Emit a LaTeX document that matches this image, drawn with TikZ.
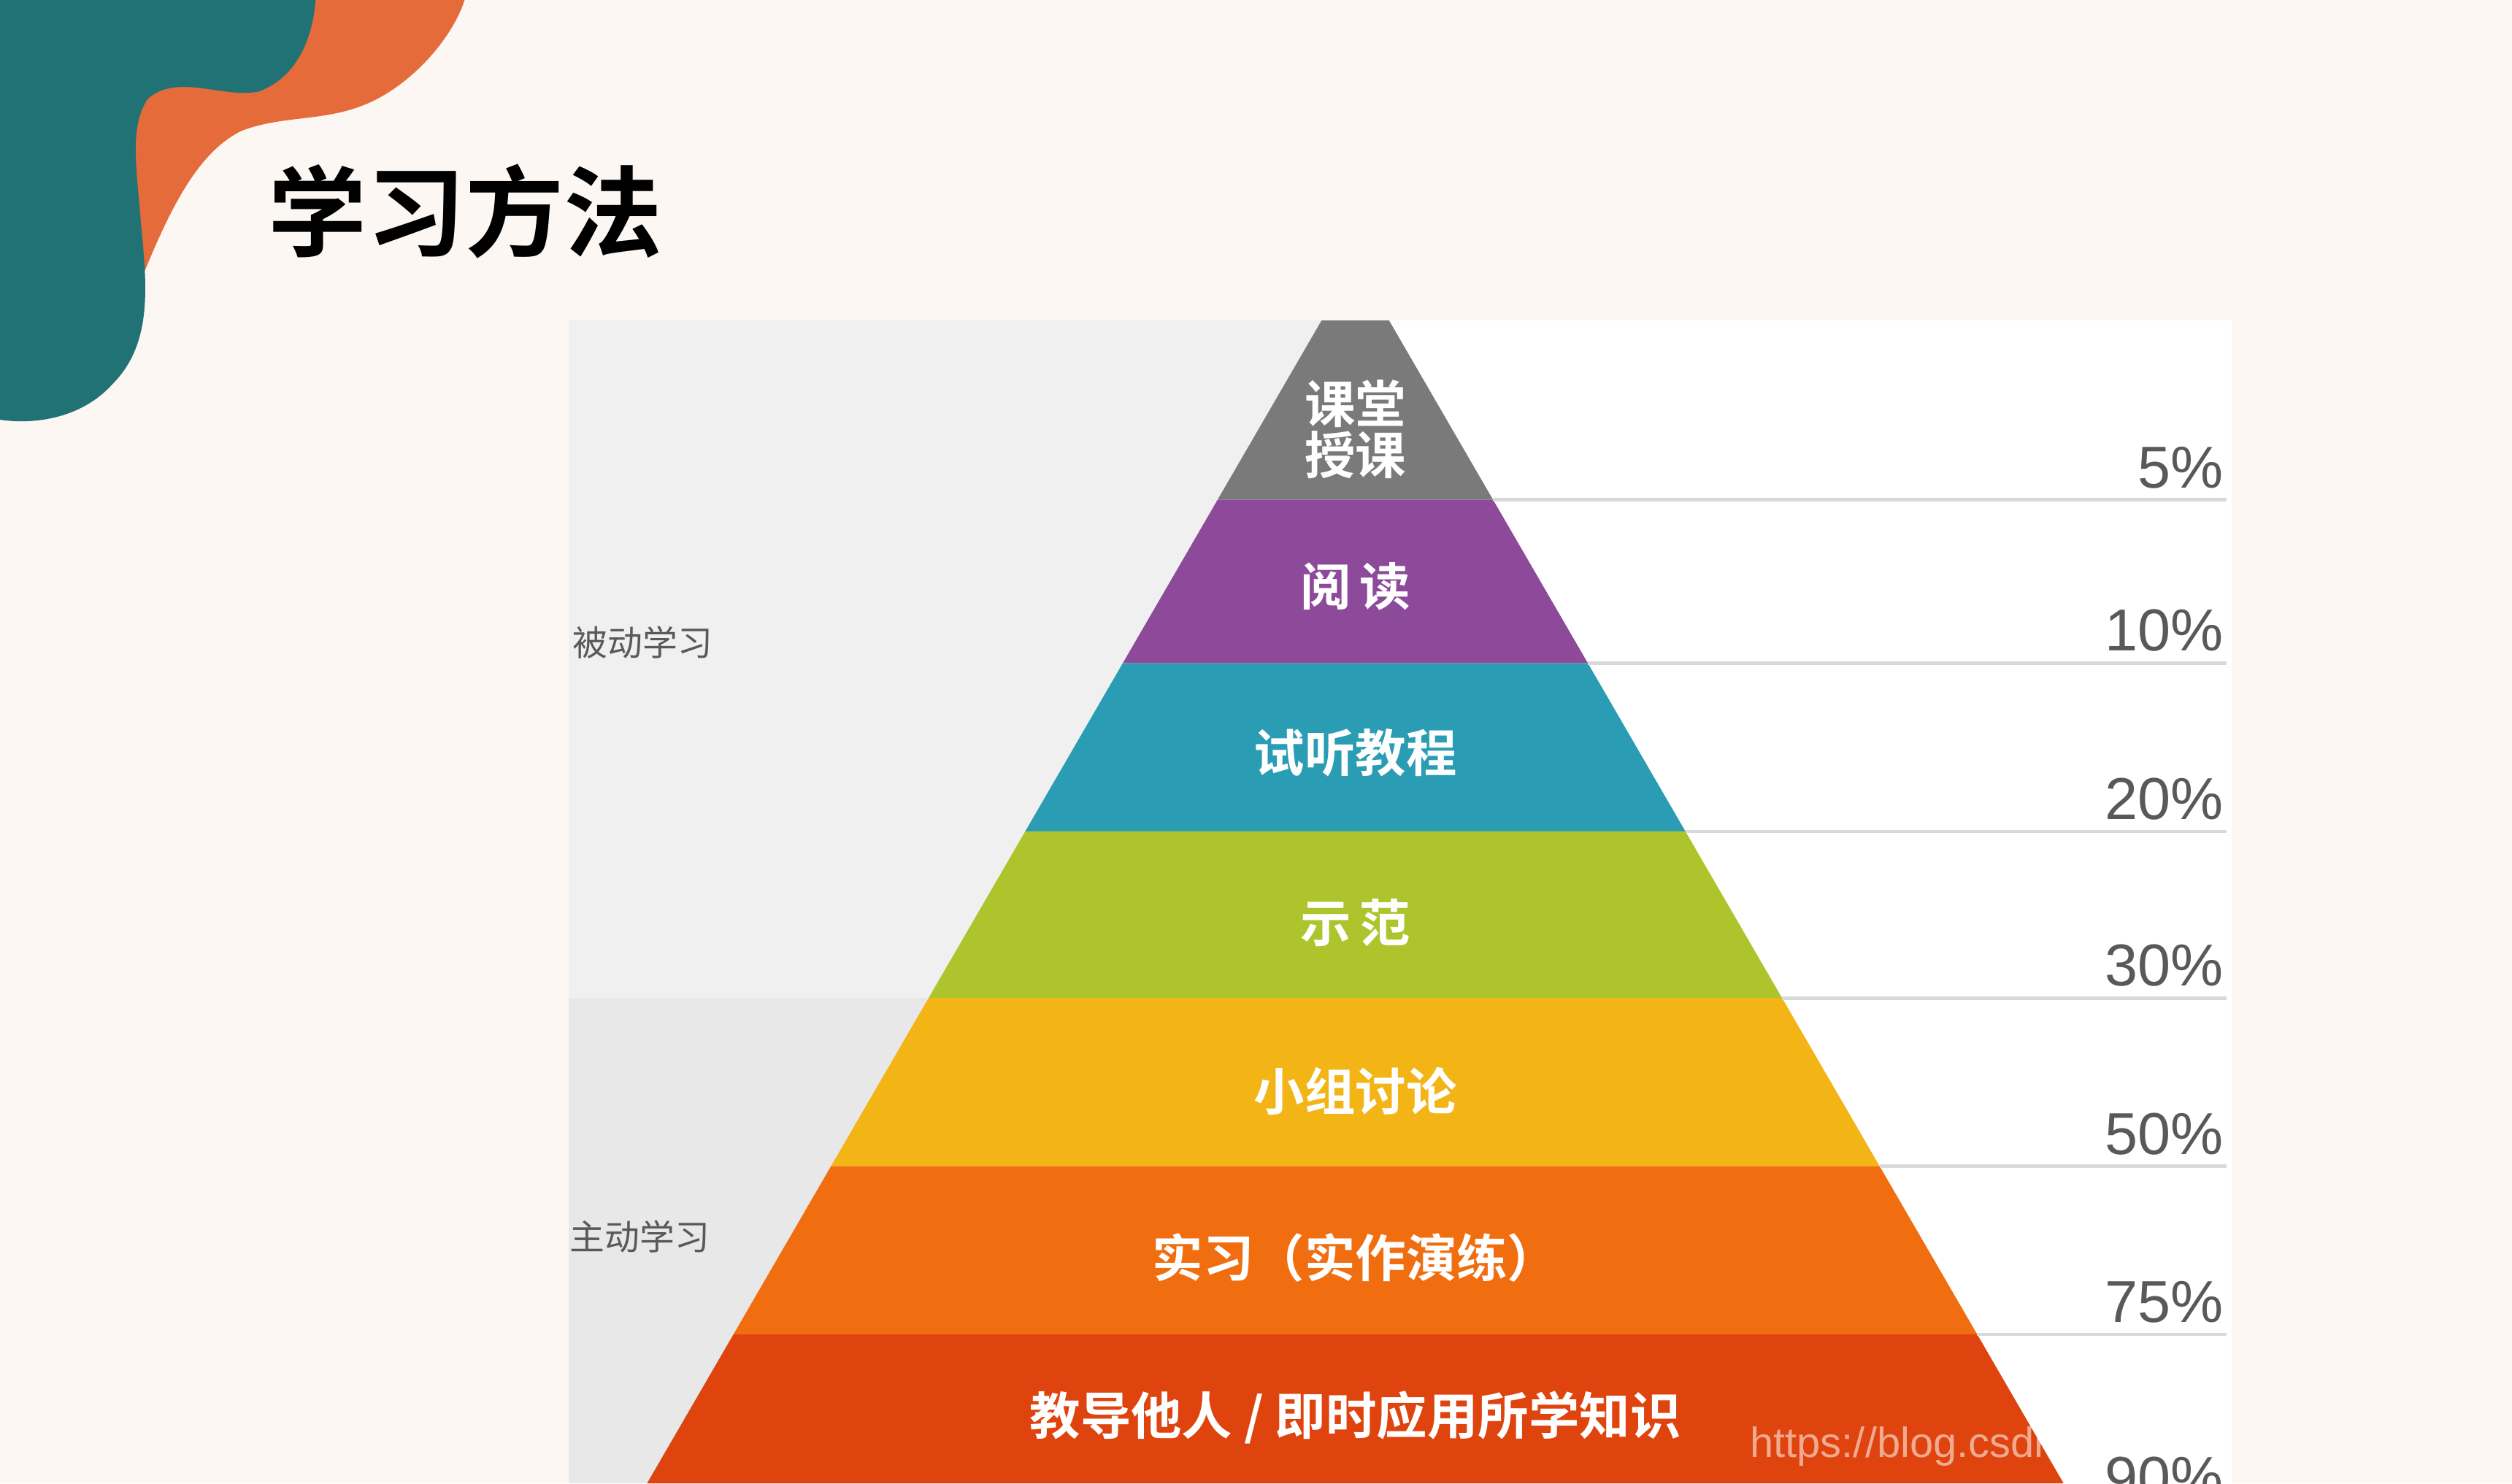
\documentclass[tikz,border=0pt]{standalone}
\usepackage{fontspec}
\setmainfont{Liberation Sans}
\newfontfamily\cjk{Noto Sans CJK SC}
\newfontfamily\cjkbold{Noto Sans CJK SC Bold}
\usetikzlibrary{positioning}
\definecolor{bgcream}{HTML}{FCF7F2}
\definecolor{blobteal}{HTML}{217274}
\definecolor{bloborange}{HTML}{E56B3A}
\definecolor{lvlA}{HTML}{7A7A7A}
\definecolor{lvlB}{HTML}{8D4A9B}
\definecolor{lvlC}{HTML}{2A9DB5}
\definecolor{lvlD}{HTML}{AEC42C}
\definecolor{lvlE}{HTML}{F3B416}
\definecolor{lvlF}{HTML}{F06E10}
\definecolor{lvlG}{HTML}{DF430E}
\tikzset{
  bandlabel/.style={text=white,font=\cjkbold\fontsize{9}{11}\selectfont,align=center},
  ratelabel/.style={text=black!65,font=\fontsize{10.5}{12}\selectfont,anchor=south east,inner sep=1pt},
  sidelabel/.style={text=black!65,font=\cjk\fontsize{6.2}{7}\selectfont,anchor=west,inner sep=0pt},
}
\begin{document}
\begin{tikzpicture}[x=0.01cm,y=-0.01cm]
    \pgfmathsetmacro{\midX}{846}
    \useasboundingbox (0,0) rectangle (1568,926);
    \fill[bgcream] (0,0) rectangle (1568,926);

    % Ecke oben links
    \fill[bloborange] (150,0) -- (290,0) .. controls (282,25) and (255,55) .. (226,66)
      .. controls (200,76) and (175,72) .. (150,82) .. controls (125,95) and (108,125) .. (88,175)
      -- (60,175) -- (60,0) -- cycle;
    \fill[blobteal] (0,0) -- (197,0) .. controls (195,25) and (185,48) .. (162,57)
      .. controls (140,62) and (110,45) .. (92,62) .. controls (80,80) and (86,110) .. (88,140)
      .. controls (92,180) and (95,215) .. (70,240) .. controls (50,262) and (20,265) .. (0,262) -- cycle;

    % Titel
    \node[font=\cjkbold\fontsize{17.5}{20}\selectfont,anchor=west] (title) at (155,132) {学习方法};

    % Tafel
    \fill[white] (355,200) rectangle (1393,926);
    \fill[black!6] (355,200) rectangle (\midX,623);
    \fill[black!9] (355,623) rectangle (\midX,926);

    % Pyramide
    \foreach \top/\bot/\col in {200/312/lvlA,312/414/lvlB,414/519/lvlC,519/623/lvlD,623/728/lvlE,728/833/lvlF,833/926/lvlG}{
      \pgfmathsetmacro{\wt}{86+0.58*(\top-312)}
      \pgfmathsetmacro{\wb}{86+0.58*(\bot-312)}
      \fill[\col] (\midX-\wt,\top) -- (\midX+\wt,\top) -- (\midX+\wb,\bot) -- (\midX-\wb,\bot) -- cycle;
    }

    % Trennlinien und Prozente
    \foreach \y/\rate in {312/5\%,414/10\%,519/20\%,623/30\%,728/50\%,833/75\%}{
      \pgfmathsetmacro{\w}{86+0.58*(\y-312)}
      \draw[black!15,line width=0.6pt] (\midX+\w,\y) -- (1390,\y);
      \node[ratelabel] at (1392,\y-3) {\rate};
    }
    \node[ratelabel] (rateG) at (1392,940) {90\%};

    % Stufen
    \node[bandlabel] (lvA) at (\midX,268) {课堂\\[-2pt]授课};
    \node[bandlabel] (lvB) at (\midX,366) {阅\,读};
    \node[bandlabel] (lvC) at (\midX,470) {试听教程};
    \node[bandlabel] (lvD) at (\midX,576) {示\,范};
    \node[bandlabel] (lvE) at (\midX,681) {小组讨论};
    \node[bandlabel] (lvF) at (\midX,785) {实习（实作演练）};
    \node[bandlabel] (lvG) at (\midX,885) {教导他人 / 即时应用所学知识};

    % Gruppen
    \node[sidelabel] (passive) at (357,401) {被动学习};
    \node[sidelabel] (active) at (355,772) {主动学习};

    % Wasserzeichen
    \node[text=white,opacity=0.55,font=\fontsize{7.5}{9}\selectfont,anchor=west] (mark) at (1080,903) {https://blog.csdn.net/};
\end{tikzpicture}
\end{document}
